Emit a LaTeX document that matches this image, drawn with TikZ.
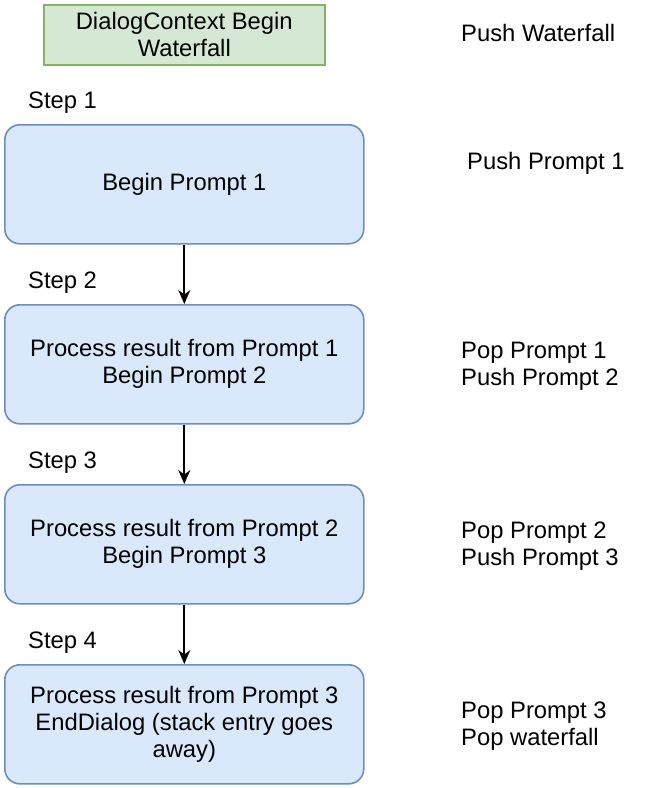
\documentclass[tikz,border=0pt]{standalone}
\usepackage{fontspec}
\setmainfont{Liberation Sans}
\usetikzlibrary{arrows.meta}
\definecolor{gf}{HTML}{D5E8D4}\definecolor{gs}{HTML}{82B366}
\definecolor{bf}{HTML}{DAE8FC}\definecolor{bs}{HTML}{6C8EBF}
\begin{document}
\begin{tikzpicture}[x=1pt,y=-1pt,
  every node/.style={font=\fontsize{23.8}{27}\selectfont},
  box/.style={draw=bs,fill=bf,line width=1.6pt,rounded corners=15pt,minimum width=359pt,minimum height=119pt,align=center,anchor=north west,inner sep=0},
  lab/.style={anchor=west,align=left,inner sep=0},
  arr/.style={-{Stealth[length=14pt,width=12pt]},line width=1.8pt}]
\useasboundingbox (0,0) rectangle (648,788);
\node[draw=gs,fill=gf,line width=1.6pt,minimum width=281pt,minimum height=60pt,align=center,anchor=north west,inner sep=0] (w) at (43,4) {DialogContext Begin\\Waterfall};
\node[box] (b1) at (4,124) {Begin Prompt 1};
\node[box] (b2) at (4,304) {Process result from Prompt 1\\Begin Prompt 2};
\node[box] (b3) at (4,484) {Process result from Prompt 2\\Begin Prompt 3};
\node[box] (b4) at (4,664) {Process result from Prompt 3\\EndDialog (stack entry goes\\away)};
\draw[arr] (b1.south) -- (b2.north);
\draw[arr] (b2.south) -- (b3.north);
\draw[arr] (b3.south) -- (b4.north);
\node[lab] (s1) at (28,103) {Step 1};
\node[lab] (s2) at (28,283) {Step 2};
\node[lab] (s3) at (28,463) {Step 3};
\node[lab] (s4) at (28,643) {Step 4};
\node[lab] (r0) at (461,33) {Push Waterfall};
\node[lab] (r1) at (467,163) {Push Prompt 1};
\node[lab] (r2) at (461,366) {Pop Prompt 1\\Push Prompt 2};
\node[lab] (r3) at (461,546) {Pop Prompt 2\\Push Prompt 3};
\node[lab] (r4) at (461,726) {Pop Prompt 3\\Pop waterfall};
\end{tikzpicture}
\end{document}
